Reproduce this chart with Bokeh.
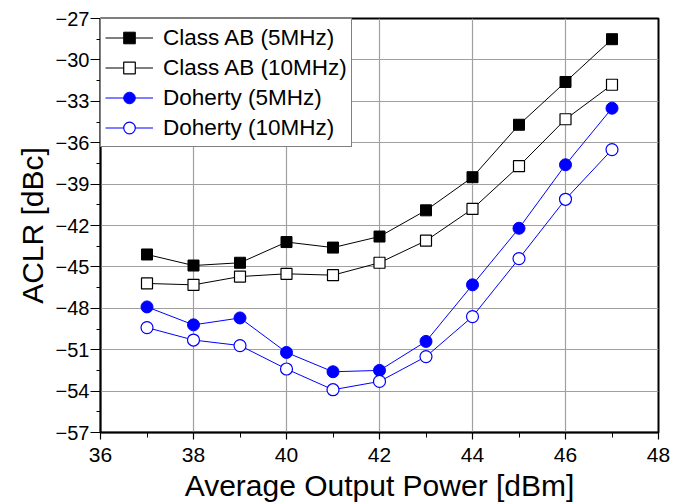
from bokeh.plotting import figure
from bokeh.models import Legend, LegendItem, FixedTicker, Range1d
from bokeh.embed import file_html
from bokeh.resources import INLINE

power = [37, 38, 39, 40, 41, 42, 43, 44, 45, 46, 47]
ab_5mhz = [-44.1, -44.9, -44.7, -43.2, -43.6, -42.8, -40.9, -38.5, -34.7, -31.6, -28.5]
ab_10mhz = [-46.2, -46.3, -45.7, -45.5, -45.6, -44.7, -43.1, -40.8, -37.7, -34.3, -31.8]
doh_5mhz = [-47.9, -49.2, -48.7, -51.2, -52.6, -52.5, -50.4, -46.3, -42.2, -37.6, -33.5]
doh_10mhz = [-49.4, -50.3, -50.7, -52.4, -53.9, -53.3, -51.5, -48.6, -44.4, -40.1, -36.5]
x_ticks = [36, 38, 40, 42, 44, 46, 48]
y_ticks = [-57, -54, -51, -48, -45, -42, -39, -36, -33, -30, -27]

FONT = "Liberation Sans"

p = figure(width=678, height=504, output_backend="svg", toolbar_location=None,
           x_range=Range1d(36, 48), y_range=Range1d(-57, -27),
           min_border_left=100, min_border_right=20, min_border_top=18, min_border_bottom=72)
p.outline_line_color = "black"
p.outline_line_width = 2

blue = "#0000ff"
r1l = p.line(power, ab_5mhz, line_color="black", line_width=1)
r1m = p.scatter(power, ab_5mhz, marker="square", size=11, fill_color="black", line_color="black")
r2l = p.line(power, ab_10mhz, line_color="black", line_width=1)
r2m = p.scatter(power, ab_10mhz, marker="square", size=11, fill_color="white", line_color="black", line_width=1.2)
r3l = p.line(power, doh_5mhz, line_color=blue, line_width=1)
r3m = p.scatter(power, doh_5mhz, marker="circle", size=12, fill_color=blue, line_color=blue)
r4l = p.line(power, doh_10mhz, line_color=blue, line_width=1)
r4m = p.scatter(power, doh_10mhz, marker="circle", size=12, fill_color="white", line_color=blue, line_width=1.2)

for ax, ticks, minor in ((p.xaxis[0], x_ticks, [36 + i for i in range(13)]),
                         (p.yaxis[0], y_ticks, [-57 + 1.5 * i for i in range(21)])):
    ax.ticker = FixedTicker(ticks=ticks, minor_ticks=minor)
    ax.axis_line_color = "black"
    ax.axis_line_width = 1.5
    ax.major_tick_line_color = "black"
    ax.major_tick_line_width = 1.2
    ax.minor_tick_line_color = "black"
    ax.minor_tick_in = 0
    ax.major_tick_in = 0
    ax.major_label_text_font = FONT
    ax.major_label_text_color = "black"
    ax.axis_label_text_font = FONT
    ax.axis_label_text_font_size = "30px"
    ax.axis_label_text_font_style = "normal"
    ax.axis_label_text_color = "black"

p.xaxis.major_tick_out = 7
p.xaxis.minor_tick_out = 5
p.yaxis.major_tick_out = 10
p.yaxis.minor_tick_out = 4
p.xaxis.major_label_text_font_size = "21px"
p.yaxis.major_label_text_font_size = "20px"
p.xaxis.axis_label = "Average Output Power [dBm]"
p.yaxis.axis_label = "ACLR [dBc]"
p.xaxis.major_label_standoff = 8
p.yaxis.major_label_standoff = 1
p.xaxis.axis_label_standoff = 4
p.yaxis.axis_label_standoff = 4

p.xgrid.ticker = FixedTicker(ticks=x_ticks)
p.ygrid.ticker = FixedTicker(ticks=y_ticks)
p.grid.grid_line_color = "#a0a0a0"
p.grid.grid_line_width = 1.2

legend = Legend(items=[
    LegendItem(label="Class AB (5MHz)", renderers=[r1l, r1m]),
    LegendItem(label="Class AB (10MHz)", renderers=[r2l, r2m]),
    LegendItem(label="Doherty (5MHz)", renderers=[r3l, r3m]),
    LegendItem(label="Doherty (10MHz)", renderers=[r4l, r4m]),
], location="top_left")
legend.label_text_font = FONT
legend.label_text_font_size = "22.5px"
legend.label_text_color = "black"
legend.border_line_color = "black"
legend.border_line_width = 1.5
legend.margin = 0
legend.padding = 4
legend.spacing = 1
legend.glyph_width = 48
legend.glyph_height = 29
legend.label_height = 29
legend.label_standoff = 10
legend.background_fill_alpha = 1
p.add_layout(legend)

open("out.html", "w").write(file_html(p, INLINE))
